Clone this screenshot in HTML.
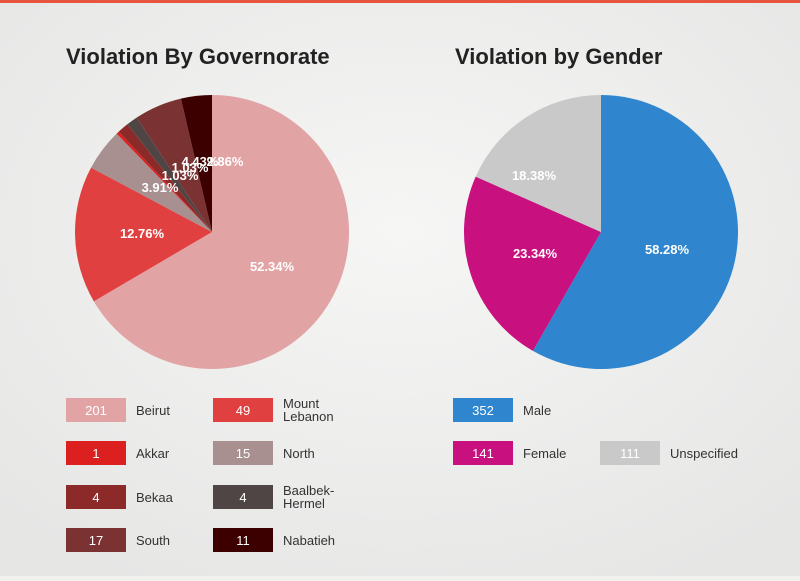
<!DOCTYPE html>
<html><head><meta charset="utf-8"><style>
body{margin:0;width:800px;height:576px;overflow:hidden;background:#f1f1f0;font-family:"Liberation Sans",sans-serif;}
</style></head><body>
<svg id="s" width="800" height="576" xmlns="http://www.w3.org/2000/svg">
<defs><radialGradient id="bg" cx="50%" cy="40%" r="70%"><stop offset="0" stop-color="#f6f6f5"/><stop offset="1" stop-color="#e6e6e5"/></radialGradient></defs>
<rect width="800" height="576" fill="url(#bg)"/>
<rect width="800" height="3" fill="#e8553f"/>
<text x="66" y="64" font-size="22" font-weight="bold" fill="#222">Violation By Governorate</text>
<text x="455" y="64" font-size="22" font-weight="bold" fill="#222">Violation by Gender</text>
<g id="p1"></g><g id="p2"></g>
<g font-size="13" font-weight="bold" fill="#fff" text-anchor="middle">
<text x="272" y="271">52.34%</text>
<text x="142" y="238">12.76%</text>
<text x="160" y="192">3.91%</text>
<text x="180" y="180">1.03%</text>
<text x="190" y="172">1.03%</text>
<text x="200" y="166">4.43%</text>
<text x="225" y="166">2.86%</text>
<text x="667" y="254">58.28%</text>
<text x="535" y="258">23.34%</text>
<text x="534" y="180">18.38%</text>
</g>
<g id="lg" font-size="13" fill="#333"></g>
</svg>
<script>
function pie(g,cx,cy,r,vals,cols){var t=vals.reduce((a,b)=>a+b,0),a=0,h='';
vals.forEach((v,i)=>{var a2=a+v/t*2*Math.PI;var x1=cx+r*Math.sin(a),y1=cy-r*Math.cos(a),x2=cx+r*Math.sin(a2),y2=cy-r*Math.cos(a2);
h+='<path d="M'+cx+' '+cy+'L'+x1+' '+y1+'A'+r+' '+r+' 0 '+((a2-a)>Math.PI?1:0)+' 1 '+x2+' '+y2+'Z" fill="'+cols[i]+'"/>';a=a2;});
document.getElementById(g).innerHTML=h;}
pie('p1',212,232,137,[201,49,15,1,4,4,17,11],['#e2a3a5','#e0403f','#a89090','#dc1f1f','#8c2a2a','#504545','#7b3232','#3d0000']);
pie('p2',601,232,137,[352,141,111],['#2f86cf','#c8107f','#c9c9c9']);
var L=[[66,410,'#e2a3a5','201',['Beirut']],[213,410,'#e0403f','49',['Mount','Lebanon']],
[66,453,'#dc1f1f','1',['Akkar']],[213,453,'#a89090','15',['North']],
[66,497,'#8c2a2a','4',['Bekaa']],[213,497,'#504545','4',['Baalbek-','Hermel']],
[66,540,'#7b3232','17',['South']],[213,540,'#3d0000','11',['Nabatieh']],
[453,410,'#2f86cf','352',['Male']],[453,453,'#c8107f','141',['Female']],[600,453,'#c9c9c9','111',['Unspecified']]];
var h='';L.forEach(l=>{h+='<rect x="'+l[0]+'" y="'+(l[1]-12)+'" width="60" height="24" fill="'+l[2]+'"/>';
h+='<text x="'+(l[0]+30)+'" y="'+(l[1]+5)+'" text-anchor="middle" fill="#fff" font-size="13">'+l[3]+'</text>';
if(l[4].length==1)h+='<text x="'+(l[0]+70)+'" y="'+(l[1]+5)+'">'+l[4][0]+'</text>';
else h+='<text x="'+(l[0]+70)+'" y="'+(l[1]-2)+'">'+l[4][0]+'</text><text x="'+(l[0]+70)+'" y="'+(l[1]+11)+'">'+l[4][1]+'</text>';});
document.getElementById('lg').innerHTML=h;
</script>
</body></html>
